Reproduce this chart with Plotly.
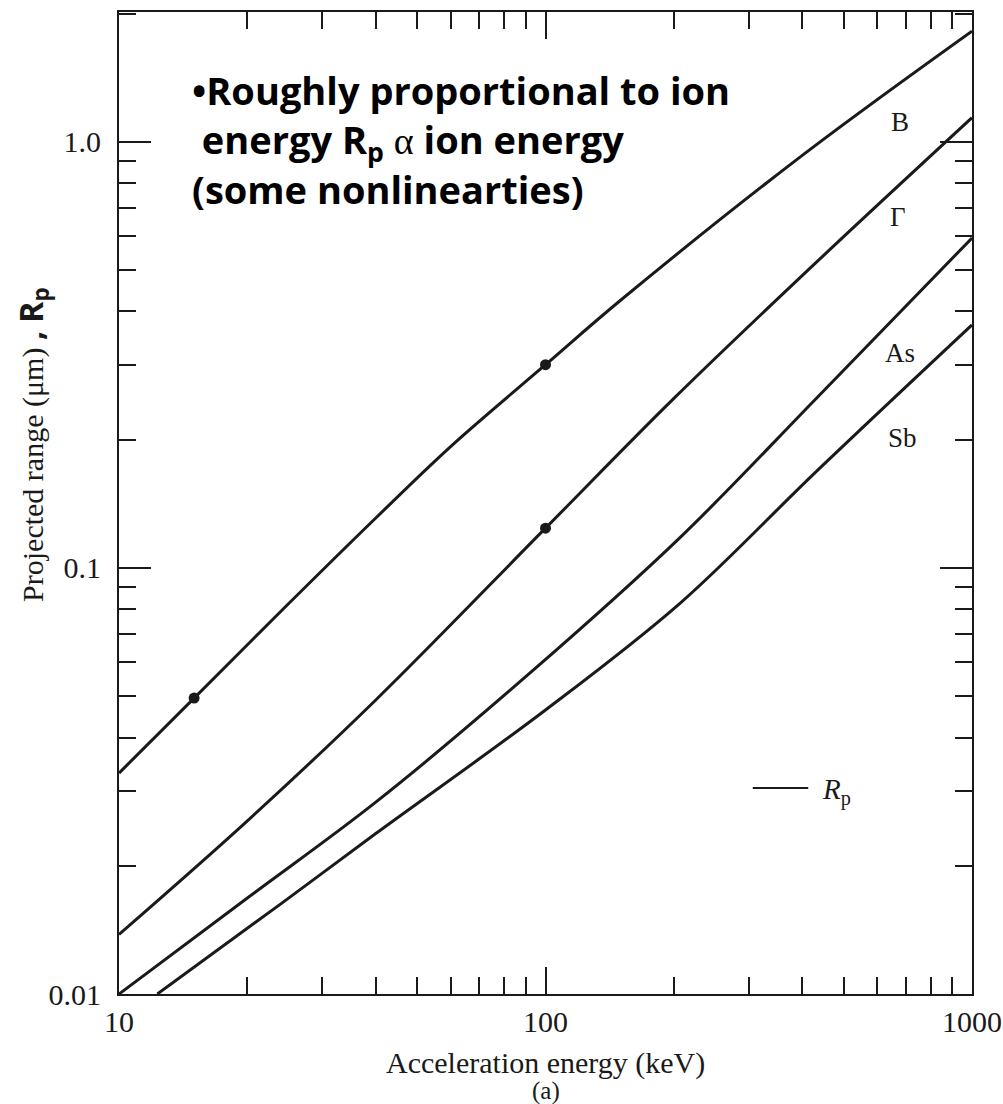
import plotly.graph_objects as go

# Acceleration energy (keV) and projected range (um)
E_B = [10, 15, 25, 40, 60, 100, 150, 400, 1000]
R_B = [0.033, 0.0495, 0.0825, 0.131, 0.193, 0.300, 0.425, 0.93, 1.82]

E_F = [10, 20, 40, 100, 200, 430, 1000]
R_F = [0.0138, 0.0255, 0.049, 0.124, 0.25, 0.52, 1.14]

E_As = [10, 20, 40, 92, 207, 433, 1000]
R_As = [0.01, 0.0168, 0.0282, 0.0567, 0.118, 0.251, 0.595]

E_Sb = [12.3, 24, 40, 100, 207, 433, 1000]
R_Sb = [0.01, 0.0163, 0.0238, 0.0464, 0.0827, 0.169, 0.372]

# marked points
E_dots = [15, 100, 100]
R_dots = [0.0495, 0.300, 0.124]

curve_names = ["B", "Γ", "As", "Sb"]

x_ticks = [10, 100, 1000]
x_ticktext = ["10", "100", "1000"]
y_ticks = [0.01, 0.1, 1.0]
y_ticktext = ["0.01", "0.1", "1.0"]

x_minor = [m * 10 ** k for k in (1, 2) for m in range(2, 10)]
y_minor = [m * 10.0 ** k for k in (-2, -1, 0) for m in range(2, 10)]

SERIF = "Liberation Serif, Times New Roman, serif"
BOLD = "Open Sans, Noto Sans, sans-serif"
INK = "#1a1a1a"

fig = go.Figure()
for (xs, ys, nm) in [(E_B, R_B, "B"), (E_F, R_F, "Γ"), (E_As, R_As, "As"), (E_Sb, R_Sb, "Sb")]:
    fig.add_trace(go.Scatter(x=xs, y=ys, mode="lines", name=nm,
                             line=dict(color=INK, width=3, shape="spline", smoothing=1.0),
                             showlegend=False, hoverinfo="skip"))
fig.add_trace(go.Scatter(x=E_dots, y=R_dots, mode="markers",
                         marker=dict(color=INK, size=11), showlegend=False))

axis_common = dict(type="log", showgrid=False, zeroline=False, showline=True,
                   linecolor=INK, linewidth=2, mirror="allticks", ticks="inside",
                   tickcolor=INK, tickwidth=2, automargin=False,
                   tickfont=dict(family=SERIF, size=30, color=INK))

fig.update_xaxes(**axis_common, range=[1, 3], tickmode="array", tickvals=x_ticks,
                 ticktext=x_ticktext, ticklen=27, ticklabeloverflow="allow",
                 minor=dict(tickmode="array", tickvals=x_minor, ticks="inside",
                            ticklen=17, tickwidth=2, tickcolor=INK, showgrid=False))
fig.update_yaxes(**axis_common, range=[-2, 0.305], tickmode="array", tickvals=y_ticks,
                 ticktext=y_ticktext, ticklen=32, ticklabelstandoff=10,
                 minor=dict(tickmode="array", tickvals=y_minor, ticks="inside",
                            ticklen=17, tickwidth=2, tickcolor=INK, showgrid=False))

ann = []
# curve labels
label_pos = [(0.9156, 0.888), (0.913, 0.791), (0.9156, 0.653), (0.919, 0.566)]
for nm, (px, py) in zip(curve_names, label_pos):
    ann.append(dict(text=nm, x=px, y=py, xref="paper", yref="paper", showarrow=False,
                    xanchor="center", yanchor="middle",
                    font=dict(family=SERIF, size=27, color=INK)))
# legend-like key
ann.append(dict(text="<i>R</i><sub>p</sub>", x=0.822, y=0.206, xref="paper", yref="paper",
                showarrow=False, xanchor="left", yanchor="middle",
                font=dict(family=SERIF, size=29, color=INK)))
# bullet text
bullet_text = ("•Roughly proportional to ion<br>"
               "&nbsp;energy R<sub>p</sub> <span style=\"font-family:Liberation Serif;font-weight:normal\">α</span> ion energy<br>"
               "(some nonlinearties)")
ann.append(dict(text=bullet_text, x=0.083, y=0.949, xref="paper", yref="paper", xanchor="left",
                yanchor="top", align="left", showarrow=False,
                font=dict(family=BOLD, size=38, color="#000000", weight="bold")))
# y title
ann.append(dict(text="Projected range (μm) <span style=\"font-family:Open Sans;font-weight:bold;font-size:32px\">, R<sub>p</sub></span>",
                x=-0.101, y=0.56, xref="paper", yref="paper", textangle=-90,
                xanchor="center", yanchor="middle",
                showarrow=False, font=dict(family=SERIF, size=30, color=INK)))
# x title
ann.append(dict(text="Acceleration energy (keV)", x=0.5, y=-0.0703, xref="paper", yref="paper",
                showarrow=False, xanchor="center", yanchor="middle",
                font=dict(family=SERIF, size=30, color=INK)))
# (a)
ann.append(dict(text="(a)", x=0.5, y=-0.0985, xref="paper", yref="paper", showarrow=False,
                xanchor="center", yanchor="middle",
                font=dict(family=SERIF, size=25, color=INK)))

fig.update_layout(width=1003, height=1104, autosize=False,
                  margin=dict(l=119, r=31, t=12, b=110),
                  plot_bgcolor="white", paper_bgcolor="white", annotations=ann,
                  shapes=[dict(type="line", xref="paper", yref="paper",
                               x0=0.743, x1=0.808, y0=0.2098, y1=0.2098,
                               line=dict(color=INK, width=2))])

fig.write_html("out.html",
               config=dict(displayModeBar=False, responsive=False),
               post_script="document.body.style.margin='0px';document.body.style.overflow='hidden';")
